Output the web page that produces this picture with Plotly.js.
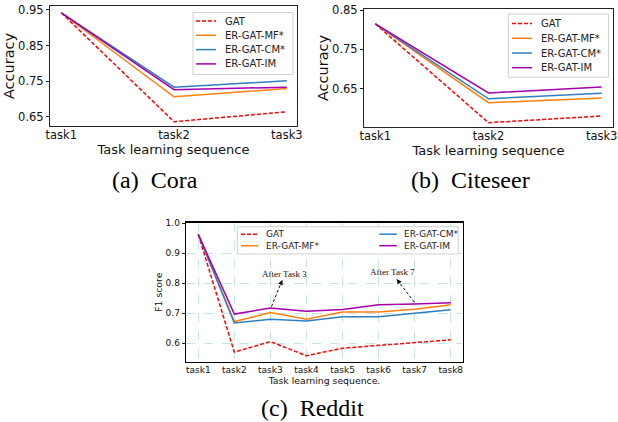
<!DOCTYPE html>
<html><head><meta charset="utf-8">
<script src="https://cdn.plot.ly/plotly-3.0.1.min.js"></script>
<style>html,body{margin:0;padding:0;background:#fff}#chart{width:618px;height:422px}</style>
</head><body><div id="chart"></div>
<script>
// ---- series meta ----
const seriesNames = ['GAT', 'ER-GAT-MF*', 'ER-GAT-CM*', 'ER-GAT-IM'];
const seriesColors = ['#ff0000', '#ff7f0e', '#2f7fbf', '#a400ad'];
const seriesDash = ['4px,2px', 'solid', 'solid', 'solid'];

// ---- (a) Cora ----
const tasks3 = ['task1', 'task2', 'task3'];
const coraGAT = [0.942, 0.636, 0.664];
const coraMF  = [0.942, 0.706, 0.729];
const coraCM  = [0.942, 0.733, 0.751];
const coraIM  = [0.942, 0.726, 0.733];

// ---- (b) Citeseer ----
const citeGAT = [0.815, 0.563, 0.580];
const citeMF  = [0.815, 0.614, 0.626];
const citeCM  = [0.815, 0.624, 0.638];
const citeIM  = [0.815, 0.639, 0.654];

// ---- (c) Reddit ----
const tasks8 = ['task1', 'task2', 'task3', 'task4', 'task5', 'task6', 'task7', 'task8'];
const redGAT = [0.963, 0.570, 0.605, 0.558, 0.583, 0.592, 0.601, 0.611];
const redMF  = [0.963, 0.672, 0.702, 0.680, 0.704, 0.704, 0.713, 0.728];
const redCM  = [0.963, 0.667, 0.680, 0.674, 0.688, 0.688, 0.700, 0.711];
const redIM  = [0.963, 0.697, 0.717, 0.706, 0.712, 0.728, 0.731, 0.735];

const ticksA = [0.65, 0.75, 0.85, 0.95];
const ticksB = [0.65, 0.75, 0.85];
const ticksC = [0.6, 0.7, 0.8, 0.9, 1.0];

const W = 618, H = 422;
const PX = v => v / W, PY = v => 1 - v / H;
const FONT = 'DejaVu Sans, sans-serif';
const SERIF = 'Liberation Serif, Times New Roman, serif';

function lineTraces(xs, ys, xa, ya, lw) {
  return ys.map((y, i) => ({
    type: 'scatter', mode: 'lines', x: xs, y: y, xaxis: xa, yaxis: ya,
    name: seriesNames[i], showlegend: false, hoverinfo: 'skip',
    line: {color: seriesColors[i], width: lw, dash: seriesDash[i]}
  }));
}

const data = [].concat(
  lineTraces(tasks3, [coraGAT, coraMF, coraCM, coraIM], 'x', 'y', 1.5),
  lineTraces(tasks3, [citeGAT, citeMF, citeCM, citeIM], 'x2', 'y2', 1.5),
  lineTraces(tasks8, [redGAT, redMF, redCM, redIM], 'x3', 'y3', 1.5)
);

const shapes = [];
const annotations = [];

// manual compact legend (matplotlib-like)
function addLegend(box, place, lineLen, textGap, fs) {
  shapes.push({type: 'rect', xref: 'paper', yref: 'paper',
    x0: PX(box[0]), x1: PX(box[1]), y0: PY(box[3]), y1: PY(box[2]),
    fillcolor: 'rgba(255,255,255,0.9)', line: {color: '#d0d0d0', width: 1}, layer: 'above'});
  seriesNames.forEach((nm, i) => {
    const p = place(i);
    shapes.push({type: 'line', xref: 'paper', yref: 'paper',
      x0: PX(p[0]), x1: PX(p[0] + lineLen), y0: PY(p[1]), y1: PY(p[1]),
      line: {color: seriesColors[i], width: 1.5, dash: seriesDash[i]}, layer: 'above'});
    annotations.push({xref: 'paper', yref: 'paper', x: PX(p[0] + lineLen + textGap), y: PY(p[1]),
      xanchor: 'left', yanchor: 'middle', showarrow: false, borderpad: 0,
      text: nm, font: {family: FONT, size: fs, color: '#222'}});
  });
}
addLegend([193, 293, 12.5, 74.5], i => [196, 21 + 14.3 * i], 20, 8, 10);
addLegend([508.3, 608.5, 14, 77.3], i => [512, 23.6 + 14.7 * i], 20, 8, 10);
addLegend([237.3, 458.3, 226.7, 254], i => [Math.floor(i / 2) ? 379.3 : 241, 234.2 + 11.5 * (i % 2)], 17.5, 6, 9);

// annotations with dashed arrows in (c)
function addArrow(label, tx, ty, x0, y0, x1, y1) {
  annotations.push({xref: 'x3', yref: 'y3', x: tx, y: ty, text: label, showarrow: false,
    font: {family: SERIF, size: 9, color: '#111'}});
  shapes.push({type: 'line', xref: 'x3', yref: 'y3', x0: x0, y0: y0, x1: x1, y1: y1,
    line: {color: '#111', width: 1, dash: '3px,2px'}});
  annotations.push({xref: 'x3', yref: 'y3', axref: 'x3', ayref: 'y3', x: x1, y: y1,
    ax: x1 - (x1 - x0) * 0.12, ay: y1 - (y1 - y0) * 0.12, text: '', showarrow: true,
    arrowhead: 2, arrowsize: 1, arrowwidth: 1, arrowcolor: '#111', standoff: 0, startstandoff: 0});
}
addArrow('After Task 3', 2.40, 0.830, 2.03, 0.722, 2.33, 0.811);
addArrow('After Task 7', 5.39, 0.839, 5.99, 0.737, 5.50, 0.814);

// captions
function caption(t, cx, cy) {
  annotations.push({xref: 'paper', yref: 'paper', x: PX(cx), y: PY(cy), xanchor: 'center', yanchor: 'middle',
    showarrow: false, text: t, font: {family: SERIF, size: 24, color: '#000'}});
}
caption('(a)  Cora', 155, 180);
caption('(b)  Citeseer', 470, 180);
caption('(c)  Reddit', 312.5, 408);

const tf = s => ({family: FONT, size: s, color: '#111'});

function xax(dom, range, tfs, anchor, extra) {
  return Object.assign({domain: [PX(dom[0]), PX(dom[1])], anchor: anchor, range: range,
    showline: true, mirror: true, linecolor: '#222', linewidth: 1, ticks: '', showgrid: false,
    zeroline: false, tickfont: tf(tfs), fixedrange: true}, extra || {});
}
function yax(dom, range, tv, fmt, tfs, anchor, extra) {
  return Object.assign({domain: [PY(dom[1]), PY(dom[0])], anchor: anchor, range: range,
    tickvals: tv, tickformat: fmt, showline: true, mirror: true, linecolor: '#222', linewidth: 1,
    ticks: 'outside', ticklen: 3, tickcolor: '#222', showgrid: false, zeroline: false,
    tickfont: tf(tfs), fixedrange: true}, extra || {});
}

const gridC = {showgrid: true, gridcolor: '#c4e4e8', gridwidth: 1, griddash: 'dash'};

const layout = {
  width: W, height: H, margin: {l: 0, r: 0, t: 0, b: 0},
  paper_bgcolor: '#fff', plot_bgcolor: '#fff', showlegend: false,
  font: {family: FONT},
  xaxis: xax([50, 297], [-0.1, 2.09], 11.5, 'y',
    {ticklabelstandoff: -2, title: {text: 'Task learning sequence', font: tf(13), standoff: 0}}),
  yaxis: yax([6, 126], [0.624, 0.961], ticksA, '.2f', 11.5, 'x',
    {title: {text: 'Accuracy', font: tf(14.5), standoff: 0}}),
  xaxis2: xax([364, 613], [-0.1, 2.1], 11.5, 'y2',
    {ticklabelstandoff: -2, title: {text: 'Task learning sequence', font: tf(13), standoff: 0}}),
  yaxis2: yax([9, 127], [0.552, 0.853], ticksB, '.2f', 11.5, 'x2',
    {title: {text: 'Accuracy', font: tf(14.5), standoff: 0}}),
  xaxis3: xax([186, 463], [-0.34, 7.34], 9, 'y3',
    Object.assign({ticklabelstandoff: -1, title: {text: 'Task learning sequence.', font: tf(9.3), standoff: 0}, linewidth: 1.3, linecolor: '#000'}, gridC)),
  yaxis3: yax([222.7, 361.7], [0.538, 1.002], ticksC, '.1f', 9, 'x3',
    Object.assign({title: {text: 'F1 score', font: tf(9.3), standoff: 1}, linewidth: 1.3, linecolor: '#000'}, gridC)),
  shapes: shapes,
  annotations: annotations
};

Plotly.newPlot('chart', data, layout, {staticPlot: true, displayModeBar: false});
</script></body></html>
